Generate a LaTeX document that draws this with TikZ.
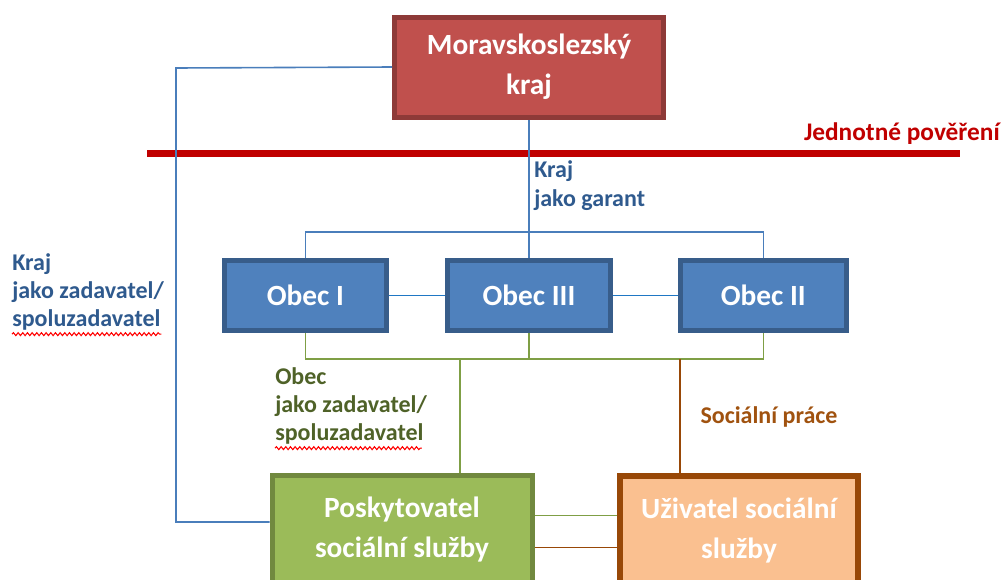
\documentclass[tikz,border=0pt]{standalone}
\usepackage{fontspec}
\setmainfont{Carlito}
\usetikzlibrary{positioning, decorations.pathmorphing}

\definecolor{krajfill}{HTML}{C0504D}
\definecolor{krajline}{HTML}{8E3A38}
\definecolor{obecfill}{HTML}{4F81BD}
\definecolor{obecline}{HTML}{385D8A}
\definecolor{poskfill}{HTML}{9BBB59}
\definecolor{poskline}{HTML}{71893F}
\definecolor{uzivfill}{HTML}{FAC090}
\definecolor{uzivline}{HTML}{984807}
\definecolor{blueline}{HTML}{4A7EBB}
\definecolor{linkblue}{HTML}{1F77C4}
\definecolor{greenline}{HTML}{7F9F45}
\definecolor{bluetext}{HTML}{2F5A8E}
\definecolor{greentext}{HTML}{4F6228}
\definecolor{browntext}{HTML}{A0520F}
\definecolor{redmark}{HTML}{C00000}

\begin{document}
\begin{tikzpicture}[x=0.75pt, y=-0.75pt,
    box/.style={draw, line width=3.75pt, align=center, text=white,
      font=\fontsize{22}{30}\selectfont\bfseries},
    label/.style={anchor=north west, align=left, inner sep=0pt,
      font=\fontsize{18}{21}\selectfont\bfseries},
    link/.style={line width=1.2pt},
    squiggle/.style={red, line width=0.8pt, decorate,
      decoration={snake, amplitude=1.1pt, segment length=3.5pt}}]

    \useasboundingbox (0,0) rectangle (1004,579);
    \clip (0,0) rectangle (1004,579);

    % Nodes
    \node (kraj) at (529,67) [box, fill=krajfill, draw=krajline, minimum width=201.75pt, minimum height=75pt] {Moravskoslezský\\kraj};
    \node (obec3) [below=104pt of kraj, box, fill=obecfill, draw=obecline, minimum width=122pt, minimum height=52.5pt] {Obec III};
    \node (obec1) [left=42pt of obec3, box, fill=obecfill, draw=obecline, minimum width=122pt, minimum height=52.5pt] {Obec I};
    \node (obec2) [right=49pt of obec3, box, fill=obecfill, draw=obecline, minimum width=124pt, minimum height=52.5pt] {Obec II};
    \node (posk) at (402,530) [box, fill=poskfill, draw=poskline, minimum width=195pt, minimum height=82.5pt] {Poskytovatel\\sociální služby};
    \node (uziv) at (739,531) [box, fill=uzivfill, draw=uzivline, line width=4.5pt, minimum width=179pt, minimum height=82.5pt] {Uživatel sociální\\služby};

    % Labels
    \node (jedn) at (1000,134) [anchor=east, inner sep=0pt, text=redmark, font=\fontsize{19}{22}\selectfont\bfseries] {Jednotné pověření};
    \node (garant) at (534,160) [label, text=bluetext, font=\fontsize{18}{22}\selectfont\bfseries] {Kraj\\jako garant};
    \node (krajzad) at (12,253) [label, text=bluetext] {Kraj\\jako zadavatel/\\spoluzadavatel};
    \node (obeczad) at (275,367) [label, text=greentext] {Obec\\jako zadavatel/\\spoluzadavatel};
    \node (prace) at (769,417) [inner sep=0pt, text=browntext, font=\fontsize{18}{21}\selectfont\bfseries] {Sociální práce};

    % Coordinates
    \coordinate (lft) at (176,68);
    \coordinate (bbus) at (530,232);
    \coordinate (gbus) at (530,359);
    \coordinate (gtap) at (460,359);
    \coordinate (btap) at (680,359);

    % Edges
    \draw[redmark, line width=5.25pt] (147,153) -- (960,153);
    \draw[blueline, link] (kraj.south) -- (obec3.north);
    \draw[blueline, link] (obec1.north) |- (bbus) -| (obec2.north);
    \draw[linkblue, link] (obec1.east) -- (obec1.east -| obec3.west);
    \draw[linkblue, link] (obec3.east) -- (obec2.west);
    \draw[blueline, link] (kraj.west) -- (lft) |- ([yshift=6pt]posk.west);
    \draw[greenline, link] (obec1.south) |- (gbus) -| (obec2.south);
    \draw[greenline, link] (obec3.south) -- (obec3.south |- gbus);
    \draw[greenline, link] (gtap) -- (gtap |- posk.north);
    \draw[uzivline, link] (btap) -- (btap |- uziv.north);
    \draw[greenline, link] ([yshift=11pt]posk.east) -- ([yshift=11pt]posk.east -| uziv.west);
    \draw[uzivline, link] ([yshift=-13pt]posk.east) -- ([yshift=-13pt]posk.east -| uziv.west);

    % Spelling marks
    \draw[squiggle] ([yshift=-3pt]krajzad.south west) -- ([yshift=-3pt,xshift=-2pt]krajzad.south west -| krajzad.east);
    \draw[squiggle] ([yshift=-3pt]obeczad.south west) -- ([yshift=-3pt,xshift=-4pt]obeczad.south west -| obeczad.east);
\end{tikzpicture}
\end{document}
